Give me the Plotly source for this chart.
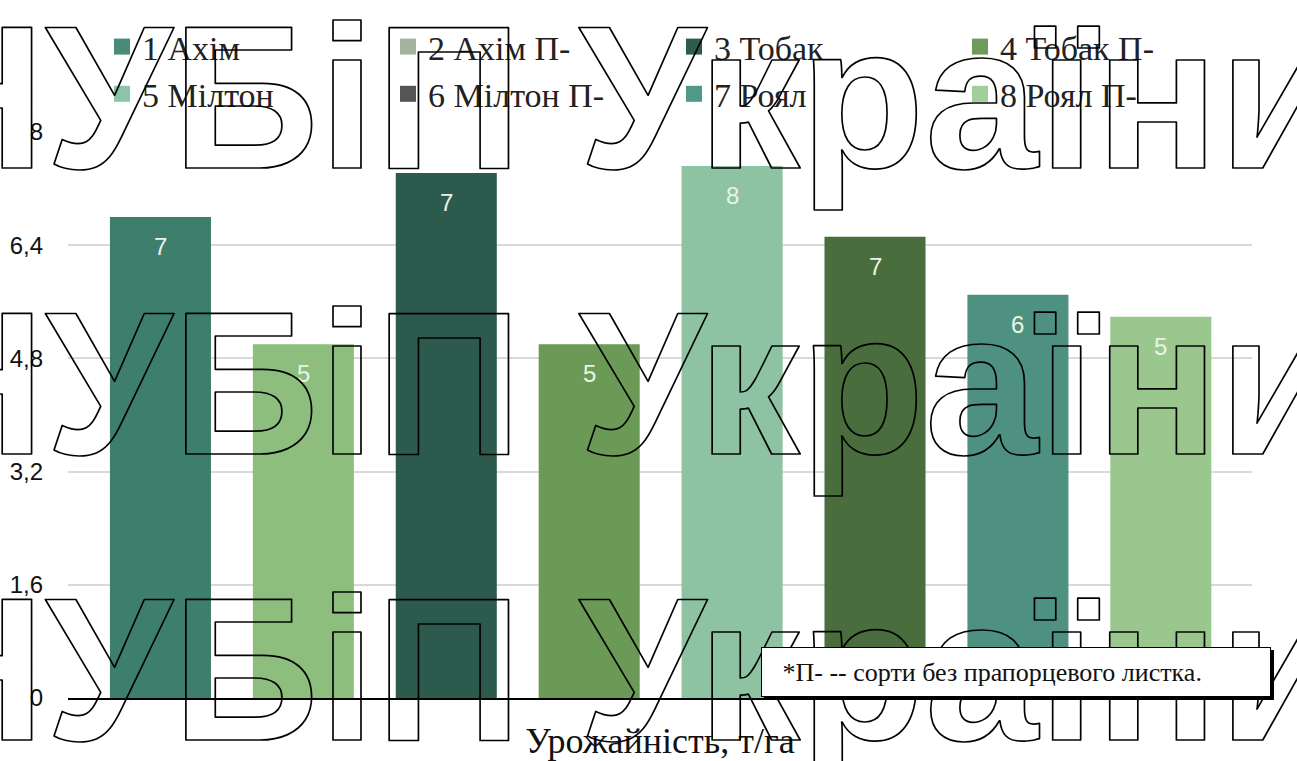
import plotly.graph_objects as go

# ---- data ----
varieties = ["1 Ахім", "2 Ахім П-", "3 Тобак", "4 Тобак П-",
             "5 Мілтон", "6 Мілтон П-", "7 Роял", "8 Роял П-"]
yields = [6.80, 5.00, 7.42, 5.00, 7.52, 6.52, 5.70, 5.39]
bar_colors = ["#3E7E6D", "#8DBE7E", "#2C5A4D", "#6A9A56",
              "#8DC2A2", "#4A6D3D", "#4F9180", "#99C78D"]
legend_colors = ["#4A8A78", "#A3B3A0", "#2E5B4D", "#6E9A5C",
                 "#8CC4A8", "#555555", "#4E9A86", "#A0CF9C"]
y_ticks = [0, 1.6, 3.2, 4.8, 6.4, 8]
axis_title = "Урожайність, т/га"
footnote = "*П- -- сорти без прапорцевого листка."
watermark = "НУБіП України"

x_idx = list(range(len(varieties)))

fig = go.Figure()
fig.add_trace(go.Bar(
    x=x_idx, y=yields, marker=dict(color=bar_colors, line=dict(width=0)),
    width=0.707, showlegend=False, hoverinfo="skip",
))
for name, col in zip(varieties, legend_colors):
    fig.add_trace(go.Scatter(
        x=[None], y=[None], mode="markers", name=name,
        marker=dict(symbol="square", size=16, color=col),
    ))

annotations = []
# value labels
for xi, v in zip(x_idx, yields):
    annotations.append(dict(
        x=xi, y=v, xref="x", yref="y", text=str(int(v + 0.5)),
        showarrow=False, yanchor="top", yshift=-14,
        font=dict(family="Liberation Sans, Arial", size=24, color="#EAF4E4"),
    ))

H0, HP = 698.0, 566.0
def py(p):
    return (H0 - p) / HP
X0, WP = 68.0, 1184.0
def px(p):
    return (p - X0) / WP

# watermark rows
for mid in [97, 383, 669]:
    annotations.append(dict(
        x=px(-104), y=py(mid), xref="paper", yref="paper", text=watermark,
        showarrow=False, xanchor="left", yanchor="middle",
        font=dict(family="Liberation Sans, Arial", size=204, color="black", weight=700),
    ))

# footnote box with shadow
note_text = "&nbsp;&nbsp;&nbsp;" + footnote
for shadow in (True, False):
    annotations.append(dict(
        x=px(761 + (3 if shadow else 0)), y=py(647 + (3 if shadow else 0)),
        xref="paper", yref="paper", text=note_text, showarrow=False,
        xanchor="left", yanchor="top", align="left",
        width=506, height=46, borderpad=1,
        bgcolor="black" if shadow else "white",
        bordercolor="black", borderwidth=1,
        font=dict(family="Liberation Serif, Times New Roman", size=26,
                  color="black" if shadow else "#111111"),
    ))

fig.update_layout(
    width=1297, height=761,
    margin=dict(l=68, r=45, t=132, b=63, autoexpand=False),
    paper_bgcolor="white", plot_bgcolor="white",
    separators=", ",
    bargap=0.29,
    legend=dict(
        orientation="h", x=px(102), xanchor="left", y=py(18), yanchor="top",
        entrywidth=241, entrywidthmode="pixels",
        font=dict(family="Liberation Serif, Times New Roman", size=34, color="#222222"),
        bgcolor="rgba(0,0,0,0)", itemclick=False, tracegroupgap=0,
    ),
    xaxis=dict(
        range=[-0.647, 7.638], showticklabels=False, ticks="", showgrid=False,
        showline=True, linecolor="black", linewidth=1.5, zeroline=False,
        title=dict(text=axis_title, standoff=35,
                   font=dict(family="Liberation Serif, Times New Roman", size=36, color="#111111")),
        automargin=False, fixedrange=True,
    ),
    yaxis=dict(
        range=[0, 8], tickvals=y_ticks, tickformat=".1~f",
        showgrid=True, gridcolor="#D9D9D9", gridwidth=1.5, zeroline=False,
        showline=False, ticks="", ticklabelstandoff=24,
        tickfont=dict(family="Liberation Sans, Arial", size=24, color="#111111"),
        automargin=False, fixedrange=True,
    ),
    annotations=annotations,
)

js = """
var gd = document.getElementById('{plot_id}');
function wm(){
  gd.querySelectorAll('g.annotation text.annotation-text').forEach(function(t){
    if (t.textContent.indexOf('НУБіП') >= 0) {
      t.style.fill = 'none';
      t.style.stroke = '#000';
      t.style.strokeWidth = '1.7px';
      t.style.strokeLinejoin = 'round';
    }
  });
}
wm();
gd.on('plotly_afterplot', wm);
"""

fig.write_html("out.html", config={"displayModeBar": False}, post_script=js)
